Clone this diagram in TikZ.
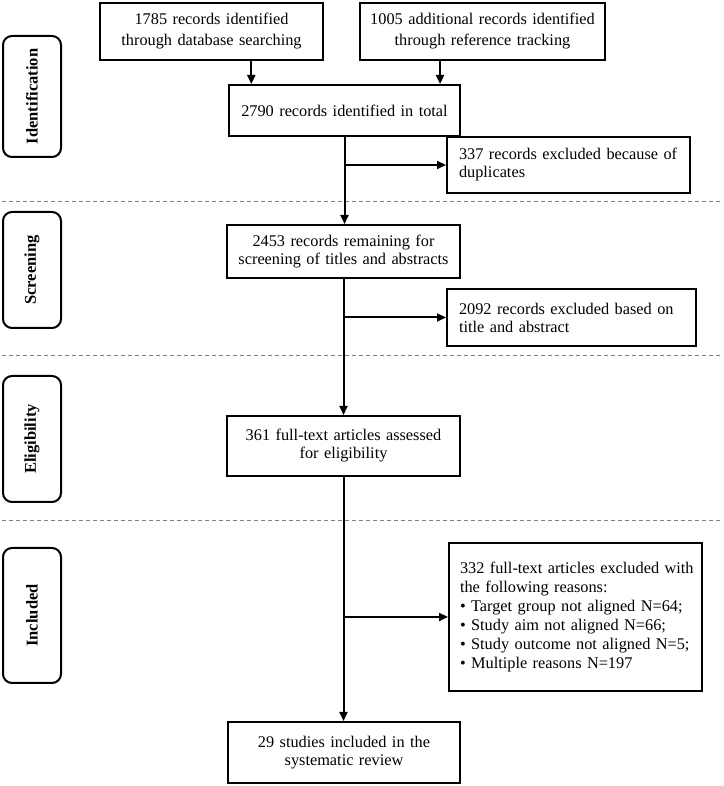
\documentclass[tikz,border=0pt]{standalone}
\usepackage{fontspec}
\setmainfont{Liberation Serif}
\usetikzlibrary{arrows.meta,calc}

\begin{document}
\begin{tikzpicture}[x=1pt,y=1pt,
  every node/.style={font=\fontsize{16.3}{18}\selectfont},
  box/.style={draw, line width=2pt, inner xsep=6pt, inner ysep=0pt, align=center},
  sidebox/.style={draw, line width=2pt, inner xsep=12pt, inner ysep=0pt, align=left},
  stage/.style={draw, line width=2pt, rounded corners=9pt, rotate=90, inner sep=0pt,
    minimum height=58pt, font=\fontsize{16.5}{18}\selectfont\bfseries},
  arr/.style={line width=2pt, -{Triangle[length=9pt,width=8pt]}},
  sep/.style={gray, line width=0.8pt, dash pattern=on 4pt off 3pt}]
\useasboundingbox (0,0) rectangle (723,786);

% phases
\node[stage, minimum width=121pt] (ident) at (32,689.5) {Identification};
\node[stage, minimum width=116pt] (screening) at (32,516) {Screening};
\node[stage, minimum width=126pt] (elig) at (32,347) {Eligibility};
\node[stage, minimum width=135pt] (included) at (32,170.5) {Included};
\foreach \y in {585,431,266}
  \draw[sep] (2,\y) -- (721,\y);

% main column
\node[box, text width=211pt, minimum height=57pt, font=\fontsize{16.3}{21}\selectfont] (dbrec) at (211.5,754.5)
  {1785 records identified\\through database searching};
\node[box, text width=233pt, minimum height=57pt, font=\fontsize{16.3}{21}\selectfont] (refrec) at (482.5,754.5)
  {1005 additional records identified\\through reference tracking};
\node[box, text width=219pt, minimum height=51pt] (total) at (344.5,675.5)
  {2790 records identified in total};
\node[box, text width=221pt, minimum height=53pt] (remain) at (343.5,534.5)
  {2453 records remaining for\\screening of titles and abstracts};
\node[box, text width=221pt, minimum height=60pt] (fulltext) at (343.5,340)
  {361 full-text articles assessed\\for eligibility};
\node[box, text width=220pt, minimum height=61pt] (studies) at (344,33.5)
  {29 studies included in the\\systematic review};

% exclusions
\node[sidebox, text width=219pt, minimum height=56pt] (dupl) at (568.5,621)
  {337 records excluded because of\\duplicates};
\node[sidebox, text width=225pt, minimum height=57pt] (exclTA) at (571.5,468.5)
  {2092 records excluded based on\\title and abstract};
\node[sidebox, text width=239pt, inner xsep=7pt, minimum height=148pt, font=\fontsize{16.3}{19}\selectfont] (exclFT) at (575.5,169)
  {\hspace*{4pt}332 full-text articles excluded with\\\hspace*{4pt}the following reasons:\\
   \hspace*{4pt}\textbullet\ Target group not aligned N=64;\\
   \hspace*{4pt}\textbullet\ Study aim not aligned N=66;\\
   \hspace*{4pt}\textbullet\ Study outcome not aligned N=5;\\
   \hspace*{4pt}\textbullet\ Multiple reasons N=197};

% arrows
\coordinate (in1) at ($(total.north west)!0.1!(total.north east)$);
\coordinate (in2) at ($(total.north west)!0.91!(total.north east)$);
\draw[arr] (in1 |- dbrec.south) -- (in1);
\draw[arr] (in2 |- refrec.south) -- (in2);
\draw[arr] (total.south) -- (total.south |- remain.north);
\draw[arr] (total.south |- dupl.west) -- (dupl.west);
\draw[arr] (remain.south) -- (remain.south |- fulltext.north);
\draw[arr] (remain.south |- exclTA.west) -- (exclTA.west);
\draw[arr] (fulltext.south) -- (fulltext.south |- studies.north);
\draw[arr] (fulltext.south |- exclFT.west) -- (exclFT.west);
\end{tikzpicture}
\end{document}
